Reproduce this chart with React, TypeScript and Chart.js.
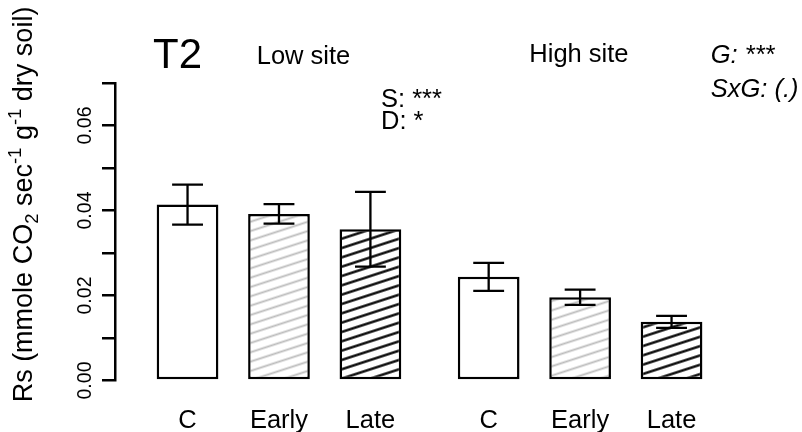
import React, { useEffect, useRef } from "react";
import { Chart, registerables } from "chart.js";

Chart.register(...registerables);

// ---- data ----
const categories = ["C", "Early", "Late", "C", "Early", "Late"];
const barPositions = [1.0, 2.5, 4.0, 5.94, 7.44, 8.94];
const rsMean = [0.0414, 0.0392, 0.0356, 0.0244, 0.0196, 0.0138];
const rsSE = [0.0047, 0.0023, 0.0088, 0.0033, 0.0018, 0.0014];
const treatmentFill = ["open", "grey", "black", "open", "grey", "black"];
const yTickValues = [0, 0.01, 0.02, 0.03, 0.04, 0.05, 0.06, 0.07];
const yLabelledTicks = [0, 0.02, 0.04, 0.06];
const siteTitles = ["Low site", "High site"];
const panelTitle = "T2";
const lowSiteStats = ["S: ***", "D: *"];
const highSiteStats = ["G: ***", "SxG: (.)"];

const FONT = '"Liberation Sans", Arial, Helvetica, sans-serif';

function makeHatch(ctx: CanvasRenderingContext2D, color: string, lw: number) {
  const tile = document.createElement("canvas");
  tile.width = 16;
  tile.height = 9;
  const t = tile.getContext("2d")!;
  t.fillStyle = "#ffffff";
  t.fillRect(0, 0, 16, 9);
  t.strokeStyle = color;
  t.lineWidth = lw;
  t.beginPath();
  t.moveTo(0, 4.5);
  t.lineTo(16, 4.5);
  t.stroke();
  const p = ctx.createPattern(tile, "repeat")!;
  p.setTransform(new DOMMatrix().rotate(-18).scale(1, 8.87 / 9));
  return p;
}

const errorBarPlugin = {
  id: "errorBars",
  afterDatasetsDraw(chart: any) {
    const { ctx } = chart;
    const y = chart.scales.y;
    const meta = chart.getDatasetMeta(0);
    ctx.save();
    ctx.strokeStyle = "#000";
    ctx.lineWidth = 2.3;
    meta.data.forEach((el: any, i: number) => {
      const hi = y.getPixelForValue(rsMean[i] + rsSE[i]);
      const lo = y.getPixelForValue(rsMean[i] - rsSE[i]);
      const half = el.width / 4;
      ctx.beginPath();
      ctx.moveTo(el.x, lo);
      ctx.lineTo(el.x, hi);
      ctx.moveTo(el.x - half, hi);
      ctx.lineTo(el.x + half, hi);
      ctx.moveTo(el.x - half, lo);
      ctx.lineTo(el.x + half, lo);
      ctx.stroke();
    });
    ctx.restore();
  },
};

const textPlugin = {
  id: "texts",
  afterDraw(chart: any) {
    const { ctx } = chart;
    const x = chart.scales.x;
    const y = chart.scales.y;
    ctx.save();
    ctx.fillStyle = "#000";
    ctx.textBaseline = "alphabetic";

    // y tick labels (rotated)
    ctx.font = `19.5px ${FONT}`;
    yLabelledTicks.forEach((v) => {
      const py = y.getPixelForValue(v);
      ctx.save();
      ctx.translate(90.7, py);
      ctx.rotate(-Math.PI / 2);
      ctx.textAlign = "center";
      ctx.fillText(v.toFixed(2), 0, 0);
      ctx.restore();
    });

    // category labels
    ctx.textAlign = "center";
    ctx.font = `25.5px ${FONT}`;
    categories.forEach((c, i) => {
      ctx.fillText(c, x.getPixelForValue(barPositions[i]), 428);
    });

    // annotations
    ctx.textAlign = "left";
    ctx.font = `42px ${FONT}`;
    ctx.fillText(panelTitle, 153, 68.3);
    ctx.font = `25.5px ${FONT}`;
    ctx.fillText(siteTitles[0], 256.7, 64.3);
    ctx.fillText(siteTitles[1], 529.3, 61.7);
    ctx.fillText(lowSiteStats[0], 381, 106.5);
    ctx.fillText(lowSiteStats[1], 381, 128.5);
    ctx.font = `italic 25.5px ${FONT}`;
    ctx.fillText(highSiteStats[0], 710.7, 63.3);
    ctx.fillText(highSiteStats[1], 710.7, 96.7);

    // y axis title with sub/superscripts
    const big = 27;
    const small = 18.5;
    const segs: [string, number, number][] = [
      ["Rs (mmole CO", big, 0],
      ["2", small, 6],
      [" sec", big, 0],
      ["-1", small, -11],
      [" g", big, 0],
      ["-1", small, -11],
      [" dry soil)", big, 0],
    ];
    let total = 0;
    segs.forEach(([s, f]) => {
      ctx.font = `${f}px ${FONT}`;
      total += ctx.measureText(s).width;
    });
    ctx.save();
    ctx.translate(31.7, 204.5);
    ctx.rotate(-Math.PI / 2);
    ctx.textAlign = "left";
    let cx = -total / 2;
    segs.forEach(([s, f, dy]) => {
      ctx.font = `${f}px ${FONT}`;
      ctx.fillText(s, cx, dy);
      cx += ctx.measureText(s).width;
    });
    ctx.restore();

    ctx.restore();
  },
};

export default function App() {
  const ref = useRef<HTMLCanvasElement>(null);
  useEffect(() => {
    const canvas = ref.current!;
    const ctx = canvas.getContext("2d")!;
    const fills: Record<string, any> = {
      open: "#ffffff",
      grey: makeHatch(ctx, "#bcbcbc", 1.9),
      black: makeHatch(ctx, "#000000", 2.4),
    };
    const chart = new Chart(canvas, {
      type: "bar",
      data: {
        datasets: [
          {
            data: barPositions.map((p, i) => ({ x: p, y: rsMean[i] })),
            backgroundColor: treatmentFill.map((k) => fills[k]),
            borderColor: "#000",
            borderWidth: 2.5,
            borderSkipped: false,
            barPercentage: 0.675,
            categoryPercentage: 1,
          },
        ],
      },
      options: {
        animation: false,
        responsive: true,
        maintainAspectRatio: false,
        events: [],
        layout: { padding: { top: 83, bottom: 51.5, left: 0, right: 0 } },
        plugins: { legend: { display: false }, tooltip: { enabled: false } },
        scales: {
          x: {
            type: "linear",
            display: false,
            min: -0.19,
            max: 11.08,
            offset: false,
            afterBuildTicks: (s: any) => {
              s.ticks = barPositions.map((v) => ({ value: v }));
            },
          },
          y: {
            type: "linear",
            min: 0,
            max: 0.07,
            afterBuildTicks: (s: any) => {
              s.ticks = yTickValues.map((v) => ({ value: v }));
            },
            afterFit: (s: any) => {
              s.width = 115;
            },
            ticks: { display: false },
            grid: {
              drawOnChartArea: false,
              drawTicks: true,
              tickLength: 13,
              color: "#000",
              lineWidth: 2.5,
            },
            border: { display: true, color: "#000", width: 2.5 },
          },
        },
      },
      plugins: [errorBarPlugin, textPlugin],
    } as any);
    return () => chart.destroy();
  }, []);
  return (
    <div style={{ position: "absolute", left: 0, top: 0, width: 802, height: 432, background: "#fff" }}>
      <canvas ref={ref} />
    </div>
  );
}
